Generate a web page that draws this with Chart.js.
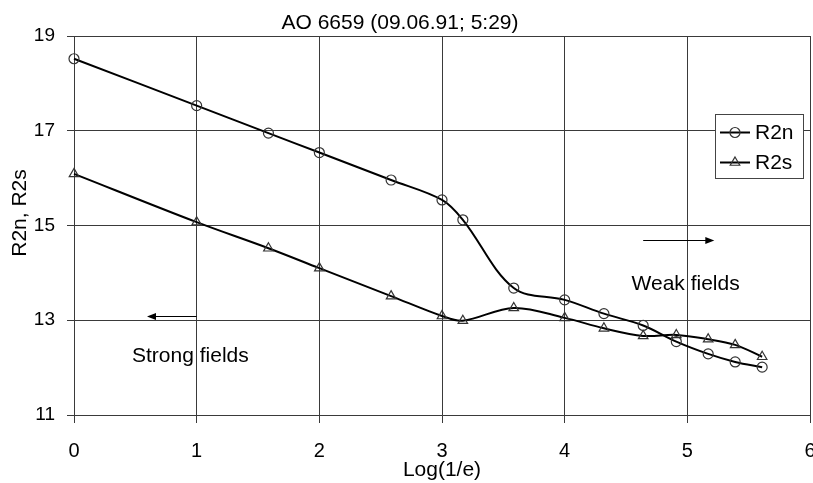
<!DOCTYPE html>
<html><head><meta charset="utf-8">
<script src="https://cdn.jsdelivr.net/npm/chart.js@4/dist/chart.umd.min.js"></script>
<style>html,body{margin:0;padding:0;background:#fff}canvas{display:block}</style>
</head><body>
<canvas id="c" width="813" height="483" style="width:813px;height:483px"></canvas>
<script>
// ---- data ----
const xValues = [0, 1, 1.585, 2, 2.585, 3, 3.17, 3.585, 4, 4.32, 4.64, 4.91, 5.17, 5.39, 5.61];
const r2nValues = [18.52, 17.53, 16.95, 16.54, 15.96, 15.54, 15.12, 13.68, 13.43, 13.14, 12.89, 12.55, 12.29, 12.12, 12.01];
const r2sValues = [16.09, 15.07, 14.52, 14.10, 13.51, 13.09, 12.99, 13.26, 13.05, 12.83, 12.67, 12.69, 12.60, 12.48, 12.23];
const seriesNames = ['R2n', 'R2s'];
const xTickValues = [0, 1, 2, 3, 4, 5, 6];
const yTickValues = [11, 13, 15, 17, 19];
const chartTitle = 'AO 6659 (09.06.91; 5:29)';
const xAxisTitle = 'Log(1/e)';
const yAxisTitle = 'R2n, R2s';
const weakLabel = 'Weak fields';
const strongLabel = 'Strong fields';

const FONT = '"Liberation Sans", Arial, Helvetica, sans-serif';
const GRID = '#3a3a3a';

function pts(xs, ys) { return xs.map((x, i) => ({ x: x, y: ys[i] })); }

function drawMarker(ctx, style, x, y, r) {
  ctx.save();
  ctx.strokeStyle = '#333';
  ctx.lineWidth = 1.2;
  ctx.beginPath();
  if (style === 'circle') {
    ctx.arc(x, y, r, 0, Math.PI * 2);
  } else {
    ctx.moveTo(x, y - r);
    ctx.lineTo(x + r * 0.866, y + r * 0.5);
    ctx.lineTo(x - r * 0.866, y + r * 0.5);
    ctx.closePath();
  }
  ctx.stroke();
  ctx.restore();
}

function arrow(ctx, x1, y, x2) {
  ctx.save();
  ctx.strokeStyle = '#000';
  ctx.fillStyle = '#000';
  ctx.lineWidth = 1;
  const dir = x2 > x1 ? 1 : -1;
  ctx.beginPath();
  ctx.moveTo(x1, y + 0.5);
  ctx.lineTo(x2 - dir * 7, y + 0.5);
  ctx.stroke();
  ctx.beginPath();
  ctx.moveTo(x2, y + 0.5);
  ctx.lineTo(x2 - dir * 9, y + 0.5 - 3.5);
  ctx.lineTo(x2 - dir * 9, y + 0.5 + 3.5);
  ctx.closePath();
  ctx.fill();
  ctx.restore();
}

const overlay = {
  id: 'overlay',
  afterDatasetsDraw(chart) {
    const ctx = chart.ctx;
    const lx = 715, ly = 114, lw = 88, lh = 64;
    ctx.save();
    ctx.fillStyle = '#fff';
    ctx.fillRect(lx, ly, lw, lh);
    ctx.strokeStyle = '#444';
    ctx.lineWidth = 1;
    ctx.strokeRect(lx + 0.5, ly + 0.5, lw, lh);
    const rows = [132.5, 162.5];
    chart.data.datasets.forEach((ds, i) => {
      const y = rows[i];
      ctx.strokeStyle = '#000';
      ctx.lineWidth = 2;
      ctx.beginPath();
      ctx.moveTo(720, y);
      ctx.lineTo(750, y);
      ctx.stroke();
      drawMarker(ctx, ds.pointStyle, 735, y, ds.pointRadius);
      ctx.fillStyle = '#000';
      ctx.font = '21px ' + FONT;
      ctx.textAlign = 'left';
      ctx.textBaseline = 'middle';
      ctx.fillText(ds.label, 755, y + 1);
    });
    ctx.restore();
  },
  afterDraw(chart) {
    const ctx = chart.ctx;
    const xs = chart.scales.x, ys = chart.scales.y;
    ctx.save();
    ctx.fillStyle = '#000';
    ctx.font = '21px ' + FONT;
    ctx.textBaseline = 'alphabetic';
    ctx.textAlign = 'center';
    ctx.fillText(chartTitle, 400, 29);
    ctx.fillText(xAxisTitle, (chart.chartArea.left + chart.chartArea.right) / 2, 476);
    ctx.save();
    ctx.translate(26, 213);
    ctx.rotate(-Math.PI / 2);
    ctx.fillText(yAxisTitle, 0, 0);
    ctx.restore();
    ctx.textAlign = 'left';
    ctx.fillText(weakLabel, xs.getPixelForValue(4.545), ys.getPixelForValue(13.64));
    ctx.fillText(strongLabel, xs.getPixelForValue(0.473), ys.getPixelForValue(12.11));
    arrow(ctx, xs.getPixelForValue(4.64), Math.round(ys.getPixelForValue(14.69)), xs.getPixelForValue(5.22));
    arrow(ctx, xs.getPixelForValue(1.0), Math.round(ys.getPixelForValue(13.10)), xs.getPixelForValue(0.595));
    ctx.restore();
  }
};

new Chart(document.getElementById('c'), {
  type: 'line',
  data: {
    datasets: [
      {
        label: seriesNames[0],
        data: pts(xValues, r2nValues),
        borderColor: '#000',
        borderWidth: 2,
        tension: 0.35,
        pointStyle: 'circle',
        pointRadius: 5,
        pointBorderColor: '#333',
        pointBorderWidth: 1.2,
        pointBackgroundColor: 'rgba(0,0,0,0)',
        clip: false
      },
      {
        label: seriesNames[1],
        data: pts(xValues, r2sValues),
        borderColor: '#000',
        borderWidth: 2,
        tension: 0.35,
        pointStyle: 'triangle',
        pointRadius: 5.5,
        pointBorderColor: '#333',
        pointBorderWidth: 1.2,
        pointBackgroundColor: 'rgba(0,0,0,0)',
        clip: false
      }
    ]
  },
  options: {
    responsive: false,
    animation: false,
    devicePixelRatio: 1,
    layout: { autoPadding: false, padding: { top: 36, right: 3, left: 0, bottom: 0 } },
    plugins: { legend: { display: false }, title: { display: false }, tooltip: { enabled: false } },
    scales: {
      x: {
        type: 'linear',
        min: 0, max: 6,
        afterBuildTicks(s) { s.ticks = xTickValues.map(v => ({ value: v })); },
        afterFit(s) { s.height = 68; s.paddingLeft = 0; s.paddingRight = 0; },
        grid: { color: GRID, lineWidth: 1, tickLength: 8, tickColor: GRID, drawTicks: true },
        border: { color: GRID, width: 1 },
        ticks: { color: '#000', font: { family: FONT, size: 20 }, padding: 16, autoSkip: false, maxRotation: 0 }
      },
      y: {
        type: 'linear',
        min: 11, max: 19,
        afterBuildTicks(s) { s.ticks = yTickValues.map(v => ({ value: v })); },
        afterFit(s) { s.width = 74; s.paddingTop = 0; s.paddingBottom = 0; },
        grid: { color: GRID, lineWidth: 1, tickLength: 7, tickColor: GRID, drawTicks: true },
        border: { color: GRID, width: 1 },
        ticks: { color: '#000', font: { family: FONT, size: 19 }, padding: 12 }
      }
    }
  },
  plugins: [overlay]
});
</script>
</body></html>
